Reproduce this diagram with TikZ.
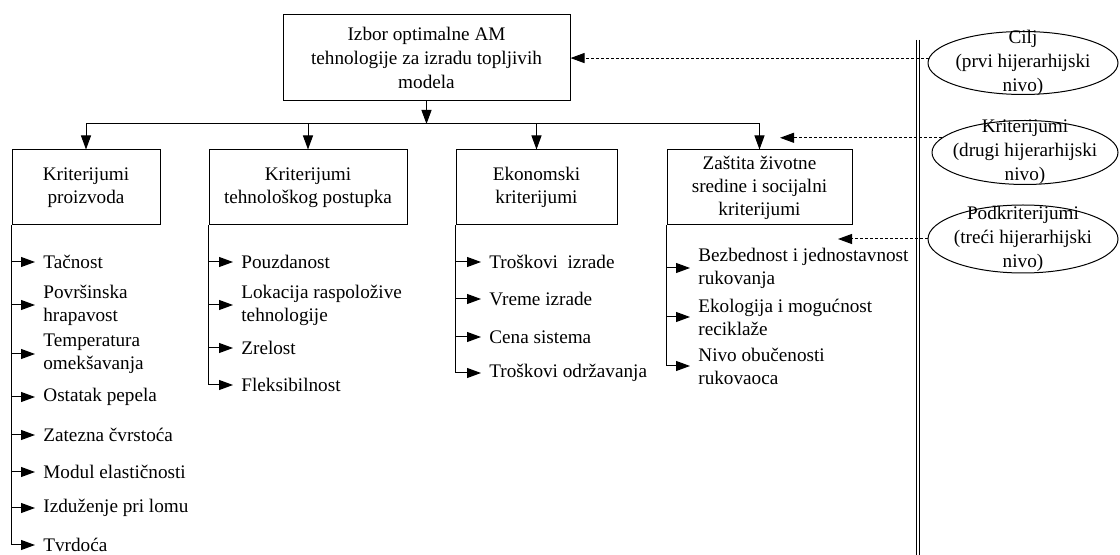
\documentclass[tikz,border=0pt]{standalone}
\usepackage{fontspec}
\setmainfont{Liberation Serif}
\usetikzlibrary{arrows.meta,shapes.geometric}
\begin{document}
\begin{tikzpicture}[x=0.5pt,y=-0.5pt,
  every node/.style={font=\fontsize{9.6}{11.5}\selectfont},
  box/.style={draw, line width=0.5pt, inner sep=0pt, align=center},
  item/.style={anchor=west, inner sep=0pt, align=left},
  link/.style={line width=0.5pt, -{Triangle[length=7pt,width=5pt]}},
  feed/.style={link, shorten >=4pt},
  level/.style={draw, ellipse, line width=0.5pt, inner sep=0pt},
  levelnote/.style={align=center, inner sep=0pt, font=\fontsize{9.6}{12}\selectfont},
  pointer/.style={link, dash pattern=on 1.5pt off 1pt}
]
\useasboundingbox (0,0) rectangle (1120,555);

% goal
\node[box, minimum width=143.5pt, minimum height=43pt, font=\fontsize{9.6}{12}\selectfont]
  (goal) at (426.5,58) {Izbor optimalne AM\\tehnologije za izradu topljivih\\modela};

% criteria
\node[box, minimum width=74pt,   minimum height=37.5pt] (b1) at (86,187.5)    {Kriterijumi\\proizvoda};
\node[box, minimum width=99pt,   minimum height=37.5pt] (b2) at (308,187.5)   {Kriterijumi\\tehnološkog postupka};
\node[box, minimum width=80.5pt, minimum height=37.5pt] (b3) at (536.5,187.5) {Ekonomski\\kriterijumi};
\node[box, minimum width=92.5pt, minimum height=37.5pt] (b4) at (759.5,187.5) {Zaštita životne\\sredine i socijalni\\kriterijumi};

\coordinate (bus) at (426.5,124);
\draw[link] (goal.south) -- (bus);
\foreach \b in {b1,b2,b3,b4} \draw[link] (bus) -| (\b.north);

% sub-criteria, column 1
\node[item] (a1) at (43,262) {Tačnost};
\node[item] (a2) at (43,305) {Površinska\\hrapavost};
\node[item] (a3) at (43,354) {Temperatura\\omekšavanja};
\node[item] (a4) at (43,397) {Ostatak pepela};
\node[item] (a5) at (43,435) {Zatezna čvrstoća};
\node[item] (a6) at (43,472) {Modul elastičnosti};
\node[item] (a7) at (43,508) {Izduženje pri lomu};
\node[item] (a8) at (43,545) {Tvrdoća};
\foreach \i in {a1,a2,a3,a4,a5,a6,a7,a8} \draw[feed] (b1.south west) |- (\i.west);

% column 2
\node[item] (c1) at (241,262) {Pouzdanost};
\node[item] (c2) at (241,305) {Lokacija raspoložive\\tehnologije};
\node[item] (c3) at (241,348) {Zrelost};
\node[item] (c4) at (241,385) {Fleksibilnost};
\foreach \i in {c1,c2,c3,c4} \draw[feed] (b2.south west) |- (\i.west);

% column 3
\node[item] (d1) at (489,262) {Troškovi\ \ izrade};
\node[item] (d2) at (489,299) {Vreme izrade};
\node[item] (d3) at (489,337) {Cena sistema};
\node[item] (d4) at (489,373) {Troškovi održavanja};
\foreach \i in {d1,d2,d3,d4} \draw[feed] (b3.south west) |- (\i.west);

% column 4
\node[item] (f1) at (698,268) {Bezbednost i jednostavnost\\rukovanja};
\node[item] (f2) at (698,317) {Ekologija i mogućnost\\reciklaže};
\node[item] (f3) at (698,366) {Nivo obučenosti\\rukovaoca};
\foreach \i in {f1,f2,f3} \draw[feed] (b4.south west) |- (\i.west);

% separator
\draw[line width=0.5pt] (916.5,40) -- (916.5,555);
\draw[line width=0.5pt] (919.5,40) -- (919.5,555);

% hierarchy levels
\node[level, minimum width=95pt, minimum height=31.5pt] (e1) at (1023,63) {};
\node[levelnote] at (e1.center) {Cilj\\(prvi hijerarhijski\\nivo)};
\node[level, minimum width=93pt, minimum height=32pt] (e2) at (1025,152.5) {};
\node[levelnote] at (e2.center) {Kriterijumi\\(drugi hijerarhijski\\nivo)};
\node[level, minimum width=95pt, minimum height=34pt] (e3) at (1023,239) {};
\node[levelnote] at (e3.center) {Podkriterijumi\\(treći hijerarhijski\\nivo)};

\coordinate (lvl2) at (780,138);
\coordinate (lvl3) at (838,239);
\draw[pointer] (e1.177) -- (e1.177 -| goal.east);
\draw[pointer] (e2.170) -- (e2.170 -| lvl2);
\draw[pointer] (e3.west) -- (e3.west -| lvl3);
\end{tikzpicture}
\end{document}
